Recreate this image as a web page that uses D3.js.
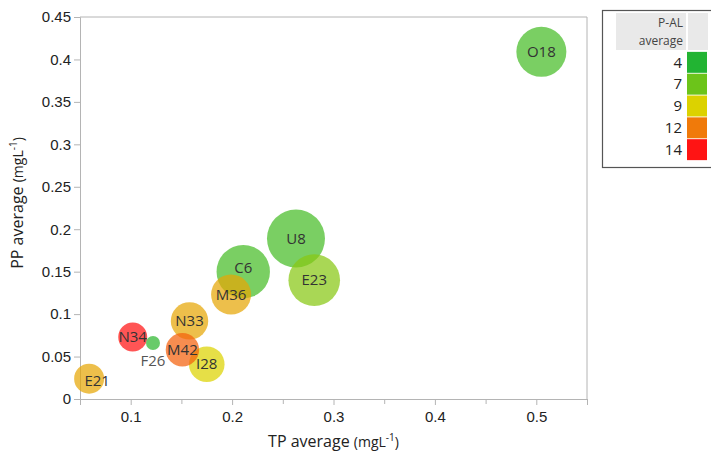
<!DOCTYPE html>
<html>
<head>
<meta charset="utf-8">
<script src="https://cdn.jsdelivr.net/npm/d3@7"></script>
<style>
  body { margin: 0; background: #fff; }
  svg { font-family: "Open Sans", "Noto Sans", sans-serif; }
</style>
</head>
<body>
<div id="chart"></div>
<script>
// Data
const sites = ["E21", "N34", "F26", "N33", "M42", "I28", "M36", "C6", "U8", "E23", "O18"];
const tpAvg = [0.059, 0.102, 0.122, 0.158, 0.151, 0.175, 0.199, 0.211, 0.263, 0.281, 0.505];
const ppAvg = [0.024, 0.073, 0.066, 0.092, 0.058, 0.041, 0.123, 0.150, 0.189, 0.140, 0.409];
const palAvg = [10.5, 14, 4.5, 10.5, 12.5, 9, 10.5, 5.5, 5.5, 7.5, 5.5];
const bubbleSize = [225, 210, 49, 350, 279, 317, 400, 713, 841, 666, 625];
// Legend
const legendValues = [4, 7, 9, 12, 14];
const legendColors = ["#22b433", "#6cc41a", "#dcd200", "#f07a0a", "#ff1414"];
const yTicks = [0, 0.05, 0.1, 0.15, 0.2, 0.25, 0.3, 0.35, 0.4, 0.45];
const xTicksMajor = [0.1, 0.2, 0.3, 0.4, 0.5];
const xTicksMinor = [0.05, 0.15, 0.25, 0.35, 0.45, 0.55];

const W = 711, H = 454;
const margin = {top: 17, right: 124, bottom: 55, left: 80};
const width = W - margin.left - margin.right,
      height = H - margin.top - margin.bottom;

const svg = d3.select("#chart")
  .append("svg")
    .attr("width", W)
    .attr("height", H);

const g = svg.append("g")
    .attr("transform", `translate(${margin.left},${margin.top})`);

const x = d3.scaleLinear().domain([0.05, 0.55]).range([0, width]);
const y = d3.scaleLinear().domain([0, 0.45]).range([height, 0]);
const r = d3.scaleSqrt().domain([0, 841]).range([0, 29]);
const color = d3.scaleLinear().domain(legendValues).range(legendColors);

const axisColor = "#b4b4b4";
const textColor = "#222";

// frame (top + right)
g.append("path")
  .attr("d", `M0,0H${width}V${height}`)
  .attr("fill", "none")
  .attr("stroke", axisColor);

// Y axis
const yAxis = g.append("g")
  .call(d3.axisLeft(y).tickValues(yTicks).tickSize(6).tickPadding(3)
    .tickFormat(d => d === 0 ? "0" : String(+d.toFixed(2))));
// X axis minor + major
const xAxisMinor = g.append("g")
  .attr("transform", `translate(0,${height})`)
  .call(d3.axisBottom(x).tickValues(xTicksMinor).tickSize(5).tickFormat(""));
const xAxis = g.append("g")
  .attr("transform", `translate(0,${height})`)
  .call(d3.axisBottom(x).tickValues(xTicksMajor).tickSize(6).tickPadding(6)
    .tickFormat(d => String(+d.toFixed(2))));

[yAxis, xAxis, xAxisMinor].forEach(a => {
  a.select(".domain").attr("stroke", axisColor);
  a.selectAll(".tick line").attr("stroke", axisColor);
  a.selectAll(".tick text").attr("fill", textColor).style("font-size", "15px");
});

// Bubbles
const data = sites.map((s, i) => ({site: s, tp: tpAvg[i], pp: ppAvg[i], pal: palAvg[i], size: bubbleSize[i]}));
const order = data.slice().sort((a, b) => b.size - a.size);

g.append("g")
  .selectAll("circle")
  .data(order)
  .join("circle")
    .attr("cx", d => x(d.tp))
    .attr("cy", d => y(d.pp))
    .attr("r", d => r(d.size))
    .attr("fill", d => color(d.pal))
    .attr("fill-opacity", 0.72);

// label offsets (px) where label is not centered
const labelShift = {E21: [8, 2], F26: [0, 18], C6: [0, -4]};
g.append("g")
  .selectAll("text")
  .data(data)
  .join("text")
    .attr("x", d => x(d.tp) + (labelShift[d.site] || [0, 0])[0])
    .attr("y", d => y(d.pp) + (labelShift[d.site] || [0, 0])[1])
    .attr("dy", "0.35em")
    .attr("text-anchor", "middle")
    .attr("fill", d => d.site === "F26" ? "#555" : "#333")
    .style("font-size", "15px")
    .text(d => d.site);

// Axis titles
const xTitle = svg.append("text")
  .attr("x", margin.left + width / 2)
  .attr("y", 447)
  .attr("text-anchor", "middle")
  .attr("fill", textColor)
  .style("font-size", "16px");
xTitle.append("tspan").text("TP average ");
xTitle.append("tspan").style("font-size", "14px").text("(mgL");
xTitle.append("tspan").style("font-size", "10px").attr("dy", -6).text("-1");
xTitle.append("tspan").style("font-size", "14px").attr("dy", 6).text(")");

const yTitle = svg.append("text")
  .attr("transform", `translate(23,${margin.top + height / 2 - 5}) rotate(-90)`)
  .attr("text-anchor", "middle")
  .attr("fill", textColor)
  .style("font-size", "16px");
yTitle.append("tspan").text("PP average ");
yTitle.append("tspan").style("font-size", "14px").text("(mgL");
yTitle.append("tspan").style("font-size", "10px").attr("dy", -6).text("-1");
yTitle.append("tspan").style("font-size", "14px").attr("dy", 6).text(")");

// Legend
const lg = svg.append("g").attr("transform", "translate(602,10)");
lg.append("rect")
  .attr("x", 0.5).attr("y", 0.5)
  .attr("width", 120).attr("height", 157)
  .attr("fill", "#fff")
  .attr("stroke", "#555")
  .attr("stroke-width", 1.2);
lg.append("rect")
  .attr("x", 14).attr("y", 3).attr("width", 70).attr("height", 37)
  .attr("fill", "#e9e9e9");
lg.append("rect")
  .attr("x", 86).attr("y", 3).attr("width", 20).attr("height", 37)
  .attr("fill", "#e9e9e9");
lg.append("text")
  .attr("x", 81).attr("y", 17)
  .attr("text-anchor", "end").attr("fill", "#444")
  .style("font-size", "12px").text("P-AL");
lg.append("text")
  .attr("x", 81).attr("y", 35)
  .attr("text-anchor", "end").attr("fill", "#444")
  .style("font-size", "12px").text("average");

const sw = d3.scaleBand().domain(legendValues).range([41, 151]).padding(0.04);
lg.selectAll(".sw")
  .data(legendValues)
  .join("rect")
    .attr("class", "sw")
    .attr("x", 85).attr("y", d => sw(d))
    .attr("width", 20).attr("height", sw.bandwidth())
    .attr("fill", (d, i) => legendColors[i]);
lg.selectAll(".lv")
  .data(legendValues)
  .join("text")
    .attr("class", "lv")
    .attr("x", 80).attr("y", d => sw(d) + sw.bandwidth() / 2)
    .attr("dy", "0.35em")
    .attr("text-anchor", "end")
    .attr("fill", textColor)
    .style("font-size", "15px")
    .text(d => d);
</script>
</body>
</html>
